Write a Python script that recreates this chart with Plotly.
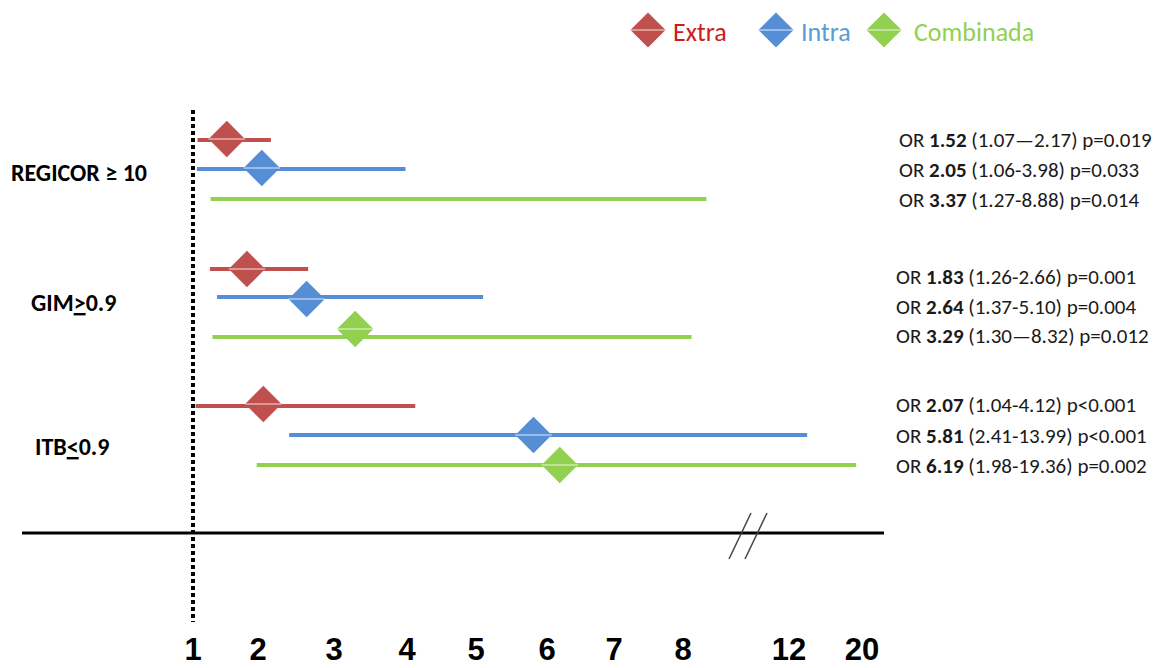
import numpy as np
import plotly.graph_objects as go

# ---- data -------------------------------------------------------------
FACTOR_LABELS = ["REGICOR \u2265 10", "GIM<u>&gt;</u>0.9", "ITB<u>&lt;</u>0.9"]
SERIES = ["Extra", "Intra", "Combinada"]

OR_EXTRA = [1.52, 1.83, 2.07]
LO_EXTRA = [1.07, 1.26, 1.04]
HI_EXTRA = [2.17, 2.66, 4.12]
P_EXTRA = ["p=0.019", "p=0.001", "p<0.001"]
SEP_EXTRA = ["\u2014", "-", "-"]

OR_INTRA = [2.05, 2.64, 5.81]
LO_INTRA = [1.06, 1.37, 2.41]
HI_INTRA = [3.98, 5.10, 13.99]
P_INTRA = ["p=0.033", "p=0.004", "p<0.001"]
SEP_INTRA = ["-", "-", "-"]

OR_COMB = [3.37, 3.29, 6.19]
LO_COMB = [1.27, 1.30, 1.98]
HI_COMB = [8.88, 8.32, 19.36]
P_COMB = ["p=0.014", "p=0.012", "p=0.002"]
SEP_COMB = ["-", "\u2014", "-"]

TICK_VALUES = [1, 2, 3, 4, 5, 6, 7, 8, 12, 20]
TICK_TEXT = ["1", "2", "3", "4", "5", "6", "7", "8", "12", "20"]

# ---- layout constants -------------------------------------------------
W, H = 1159, 668
PLOT_H = 628
TICK_PX = [193, 258, 334, 407, 476, 547, 614, 683, 789, 862]  # broken OR scale

COLORS = ["#C0504D", "#558ED5", "#92D050"]
TEXT_COLORS = ["#CC1C1C", "#5B9BD5", "#92D050"]

LINE_Y = [[140, 269, 406], [169, 297, 435], [199, 337, 465]]
MARK_Y = [[139, 269, 404], [168, 299, 435], [199, 329, 465]]
MARK_VISIBLE = [[1, 1, 1], [1, 1, 1], [0, 1, 1]]
LABEL_Y = [172, 302, 446]
LABEL_X = [9, 29, 33]
NOTE_X = [897, 894, 894]
NOTE_Y = [[140, 277, 405], [170, 307, 436], [200, 336, 466]]

LABEL_FONT = "Carlito, Lato, sans-serif"
TICK_FONT = "Liberation Sans Narrow, Arial Narrow, Liberation Sans, sans-serif"


def scale(v):
    """Map odds ratios onto the broken horizontal scale."""
    return np.interp(np.asarray(v, dtype=float), TICK_VALUES, TICK_PX)


groups = [
    (OR_EXTRA, LO_EXTRA, HI_EXTRA, P_EXTRA, SEP_EXTRA),
    (OR_INTRA, LO_INTRA, HI_INTRA, P_INTRA, SEP_INTRA),
    (OR_COMB, LO_COMB, HI_COMB, P_COMB, SEP_COMB),
]

fig = go.Figure()
annotations = []

for s, (ors, los, his, ps, seps) in enumerate(groups):
    xs, ys = [], []
    for i in range(len(ors)):
        xs += [float(scale(los[i])), float(scale(his[i])), None]
        ys += [LINE_Y[s][i], LINE_Y[s][i], None]
    fig.add_trace(go.Scatter(
        x=xs, y=ys, mode="lines", line=dict(color=COLORS[s], width=4),
        showlegend=False, hoverinfo="skip"))
    fig.add_trace(go.Scatter(
        x=scale(ors), y=MARK_Y[s], mode="markers", name=SERIES[s],
        marker=dict(symbol="diamond", size=28, color=COLORS[s],
                    opacity=MARK_VISIBLE[s], line=dict(width=0)),
        showlegend=False))
    fig.add_trace(go.Scatter(
        x=scale(ors), y=MARK_Y[s], mode="markers",
        marker=dict(symbol="line-ew", size=26,
                    opacity=[0.55 * v for v in MARK_VISIBLE[s]],
                    line=dict(color="white", width=1.5)),
        showlegend=False, hoverinfo="skip"))
    for i in range(len(ors)):
        annotations.append(dict(
            x=NOTE_X[i], y=NOTE_Y[s][i], xref="x", yref="y",
            xanchor="left", yanchor="middle", showarrow=False,
            text=f"OR <b>{ors[i]:.2f}</b> ({los[i]:.2f}{seps[i]}{his[i]:.2f}) {ps[i]}",
            font=dict(family=LABEL_FONT, size=21, color="#1a1a1a")))

for i, lab in enumerate(FACTOR_LABELS):
    annotations.append(dict(
        x=LABEL_X[i], y=LABEL_Y[i], xref="x", yref="y",
        xanchor="left", yanchor="middle", showarrow=False,
        text=f"<b>{lab}</b>",
        font=dict(family=LABEL_FONT, size=24, color="black")))

# legend keys
LEG_X = [648, 776, 884]
LEG_TEXT_X = [671, 799, 912]
LEG_Y = 30
fig.add_trace(go.Scatter(
    x=LEG_X, y=[LEG_Y] * 3, mode="markers",
    marker=dict(symbol="diamond", size=27, color=COLORS),
    showlegend=False, hoverinfo="skip"))
fig.add_trace(go.Scatter(
    x=LEG_X, y=[LEG_Y] * 3, mode="markers",
    marker=dict(symbol="line-ew", size=25, opacity=0.55,
                line=dict(color="white", width=1.5)),
    showlegend=False, hoverinfo="skip"))
for k, name in enumerate(SERIES):
    annotations.append(dict(
        x=LEG_TEXT_X[k], y=LEG_Y + 2, xref="x", yref="y",
        xanchor="left", yanchor="middle", showarrow=False, text=name,
        font=dict(family=LABEL_FONT, size=26, color=TEXT_COLORS[k])))

shapes = [
    # baseline
    dict(type="line", xref="x", yref="y", x0=22, x1=884, y0=533, y1=533,
         line=dict(color="black", width=3)),
    # axis break marks
    dict(type="line", xref="x", yref="y", x0=729, x1=751, y0=559, y1=513,
         line=dict(color="#444444", width=1.5)),
    dict(type="line", xref="x", yref="y", x0=745, x1=767, y0=559, y1=513,
         line=dict(color="#444444", width=1.5)),
    # null line at OR = 1
    dict(type="line", xref="x", yref="y",
         x0=float(scale(1)), x1=float(scale(1)), y0=110, y1=622,
         line=dict(color="black", width=4, dash="4px,3px")),
]

fig.update_layout(
    width=W, height=H, margin=dict(l=0, r=0, t=0, b=H - PLOT_H),
    paper_bgcolor="white", plot_bgcolor="white",
    showlegend=False, annotations=annotations, shapes=shapes,
    xaxis=dict(range=[0, W], showgrid=False, zeroline=False, showline=False,
               tickmode="array", tickvals=scale(TICK_VALUES).tolist(),
               ticktext=[f"<b>{t}</b>" for t in TICK_TEXT], ticks="",
               tickfont=dict(family=TICK_FONT, size=31, color="black")),
    yaxis=dict(range=[PLOT_H, 0], visible=False, showgrid=False,
               zeroline=False),
)

fig.write_html("out.html")
